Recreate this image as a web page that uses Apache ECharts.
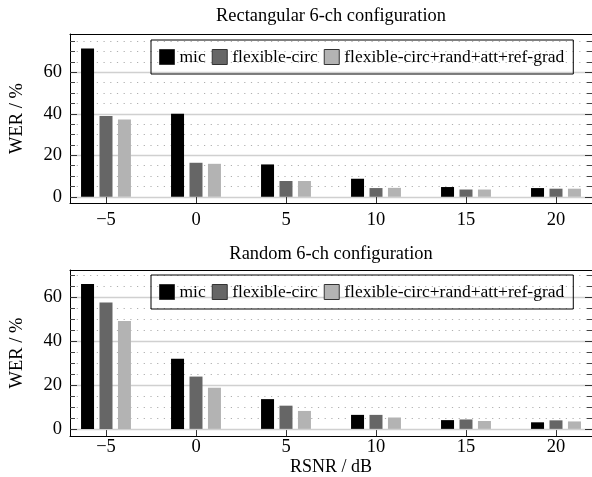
<!DOCTYPE html>
<html>
<head>
<meta charset="utf-8">
<script src="https://cdn.jsdelivr.net/npm/echarts@6/dist/echarts.min.js"></script>
<style>
  html, body { margin: 0; padding: 0; background: #fff; }
  #chart { width: 592px; height: 477px; }
</style>
</head>
<body>
<div id="chart"></div>
<script>
// RSNR groups on the x axis
const rsnr = [-5, 0, 5, 10, 15, 20];
const seriesNames = ['mic', 'flexible-circ', 'flexible-circ+rand+att+ref-grad'];

// WER values, rectangular array
const rectMic = [71.5, 40.0, 15.6, 8.7, 4.7, 4.2];
const rectFlex = [39.0, 16.4, 7.6, 4.2, 3.5, 3.9];
const rectRef = [37.3, 15.9, 7.6, 4.3, 3.5, 3.9];

// WER values, random array
const randMic = [66.2, 32.1, 13.6, 6.4, 4.0, 3.0];
const randFlex = [57.8, 23.9, 10.6, 6.4, 4.3, 3.9];
const randRef = [49.3, 18.8, 8.2, 5.2, 3.6, 3.4];

// ticks
const xTicks = [-5, 0, 5, 10, 15, 20];
const yMajor = [0, 20, 40, 60];
const yMinor = [5, 10, 15, 25, 30, 35, 45, 50, 55, 65, 70, 75];

const panels = [
  { title: 'Rectangular 6-ch configuration', top: 34, ymin: -3, ymax: 78.5, legendTop: 40,
    labelMargin: 8, titleGap: 9, data: [rectMic, rectFlex, rectRef] },
  { title: 'Random 6-ch configuration', top: 270, ymin: -3.3, ymax: 72.6, legendTop: 275,
    labelMargin: 2, titleGap: 7, data: [randMic, randFlex, randRef] }
];

const colors = ['#000000', '#666666', '#b3b3b3'];
const FONT = 'Liberation Serif';
const fmt = v => (v < 0 ? '\u2212' + Math.abs(v) : String(v));

const grid = [], xAxis = [], yAxis = [], series = [], legend = [];

panels.forEach((p, i) => {
  grid.push({ left: 70, right: 0, top: p.top, height: 169, containLabel: false });

  // bottom axis with ticks
  xAxis.push({
    type: 'value', gridIndex: i, position: 'bottom', min: -7, max: 22,
    axisLine: { show: true, onZero: false, lineStyle: { color: '#000', width: 1 } },
    axisTick: { show: true, inside: true, length: 6, customValues: xTicks, lineStyle: { color: '#333' } },
    axisLabel: { customValues: xTicks, formatter: fmt, color: '#000', fontFamily: FONT, fontSize: 18.5, margin: p.labelMargin },
    splitLine: { show: false },
    name: i === 1 ? 'RSNR / dB' : '', nameLocation: 'middle', nameGap: 8,
    nameTextStyle: { fontFamily: FONT, fontSize: 18, color: '#000' }
  });
  // top frame, carries the panel title
  xAxis.push({
    type: 'value', gridIndex: i, position: 'top', min: -7, max: 22,
    axisLine: { show: true, onZero: false, lineStyle: { color: '#000', width: 1 } },
    axisTick: { show: false }, axisLabel: { show: false }, splitLine: { show: false },
    name: p.title, nameLocation: 'middle', nameGap: p.titleGap,
    nameTextStyle: { fontFamily: FONT, fontSize: 18.4, color: '#000' }
  });

  const minor = yMinor.filter(v => v < p.ymax);
  const yBase = { type: 'value', gridIndex: i, min: p.ymin, max: p.ymax };
  // left major
  yAxis.push(Object.assign({}, yBase, {
    position: 'left',
    axisLine: { show: true, onZero: false, lineStyle: { color: '#000' } },
    axisTick: { show: true, inside: true, length: 7, customValues: yMajor, lineStyle: { color: '#333' } },
    axisLabel: { customValues: yMajor, color: '#000', fontFamily: FONT, fontSize: 18.5, margin: 8 },
    splitLine: { show: true, lineStyle: { color: '#d0d0d0', width: 1.3 } },
    name: 'WER / %', nameLocation: 'middle', nameGap: 43,
    nameTextStyle: { fontFamily: FONT, fontSize: 18.5, color: '#000' }
  }));
  // left minor
  yAxis.push(Object.assign({}, yBase, {
    position: 'left',
    axisLine: { show: false, onZero: false },
    axisTick: { show: true, inside: true, length: 5, customValues: minor, lineStyle: { color: '#444' } },
    axisLabel: { show: false },
    splitLine: { show: true, lineStyle: { color: '#b0b0b0', width: 1.2, type: [1.2, 5.5] } }
  }));
  // right major
  yAxis.push(Object.assign({}, yBase, {
    position: 'right',
    axisLine: { show: true, onZero: false, lineStyle: { color: '#000' } },
    axisTick: { show: true, inside: true, length: 7, customValues: yMajor, lineStyle: { color: '#333' } },
    axisLabel: { show: false }, splitLine: { show: false }
  }));
  // right minor
  yAxis.push(Object.assign({}, yBase, {
    position: 'right',
    axisLine: { show: false, onZero: false },
    axisTick: { show: true, inside: true, length: 5, customValues: minor, lineStyle: { color: '#444' } },
    axisLabel: { show: false }, splitLine: { show: false }
  }));

  p.data.forEach((vals, k) => {
    series.push({
      name: seriesNames[k], type: 'bar',
      xAxisIndex: i * 2, yAxisIndex: i * 4,
      barWidth: 13, barGap: '42%',
      itemStyle: { color: colors[k] },
      data: rsnr.map((x, j) => [x, vals[j]])
    });
  });

  legend.push({
    data: seriesNames, left: 151, top: p.legendTop, orient: 'horizontal',
    icon: 'rect', itemWidth: 15, itemHeight: 15, itemGap: 6,
    padding: [8, 9, 8, 8], borderColor: '#000', borderWidth: 1,
    itemStyle: { borderColor: '#333', borderWidth: 1 },
    textStyle: { fontFamily: FONT, fontSize: 17.5, color: '#000' },
    selectedMode: false
  });
});

const chart = echarts.init(document.getElementById('chart'), null, { renderer: 'canvas' });
chart.setOption({
  animation: false,
  backgroundColor: '#fff',
  grid, xAxis, yAxis, series, legend
});
</script>
</body>
</html>
